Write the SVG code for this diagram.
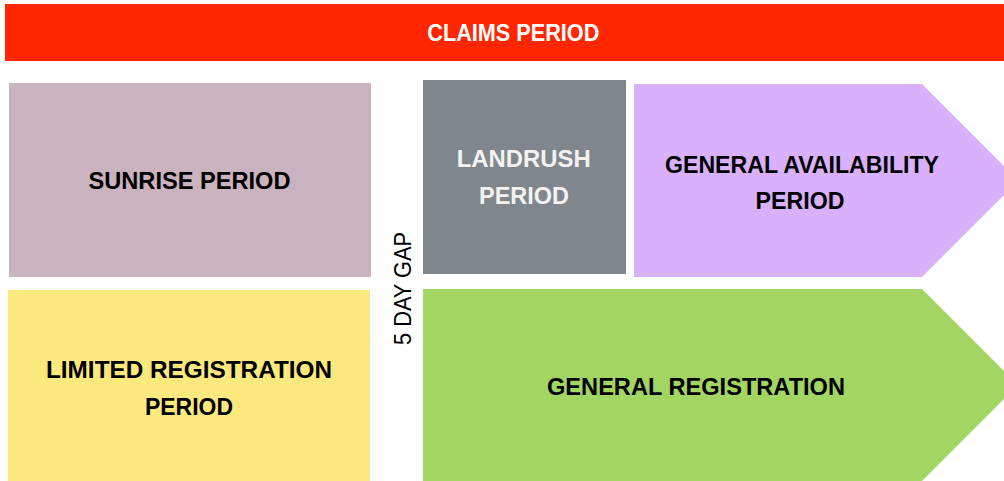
<svg xmlns="http://www.w3.org/2000/svg" width="1004" height="481" viewBox="0 0 1004 481">
<style>
.lbl{font-family:"Liberation Sans",Arial,sans-serif;font-weight:bold;font-size:23px;text-anchor:middle;fill:#000}
.wht{fill:#f2f2f2}
.gap{font-family:"Liberation Sans",Arial,sans-serif;font-size:23px;text-anchor:middle;fill:#000}
</style>
<rect width="1004" height="481" fill="#ffffff"/>
<g id="claims">
<rect x="5" y="4" width="999" height="57" fill="#ff2600"/>
<text class="lbl" x="513.3" y="41" textLength="172" lengthAdjust="spacingAndGlyphs" style="fill:#ffffff">CLAIMS PERIOD</text>
</g>
<g id="sunrise">
<rect x="9" y="83" width="362" height="194" fill="#cab2bf"/>
<text class="lbl" x="189.5" y="189" textLength="202" lengthAdjust="spacingAndGlyphs">SUNRISE PERIOD</text>
</g>
<g id="limited">
<rect x="8" y="290" width="362" height="191" fill="#fbe97d"/>
<text class="lbl" x="189" y="378" textLength="286" lengthAdjust="spacingAndGlyphs">LIMITED REGISTRATION</text>
<text class="lbl" x="189" y="415" textLength="88" lengthAdjust="spacingAndGlyphs">PERIOD</text>
</g>
<g id="gap">
<text class="gap" transform="translate(411 288.5) rotate(-90)" x="0" y="0" textLength="113" lengthAdjust="spacingAndGlyphs">5 DAY GAP</text>
</g>
<g id="landrush">
<rect x="423" y="80" width="203" height="194" fill="#7f878c"/>
<text class="lbl wht" x="523.7" y="167" textLength="134" lengthAdjust="spacingAndGlyphs" style="fill:#f2f2f2">LANDRUSH</text>
<text class="lbl wht" x="524" y="204" textLength="90" lengthAdjust="spacingAndGlyphs" style="fill:#f2f2f2">PERIOD</text>
</g>
<g id="general-availability">
<polygon points="634,84 922,84 1018.5,180.5 922,277 634,277" fill="#d8b0fc"/>
<text class="lbl" x="802" y="172.5" textLength="274" lengthAdjust="spacingAndGlyphs">GENERAL AVAILABILITY</text>
<text class="lbl" x="800" y="208.5" textLength="89" lengthAdjust="spacingAndGlyphs">PERIOD</text>
</g>
<g id="general-registration">
<polygon points="423,289 922,289 1018,385 922,481 423,481" fill="#a2d562"/>
<text class="lbl" x="696" y="395" textLength="298" lengthAdjust="spacingAndGlyphs">GENERAL REGISTRATION</text>
</g>
<g id="connectors"></g>
</svg>
